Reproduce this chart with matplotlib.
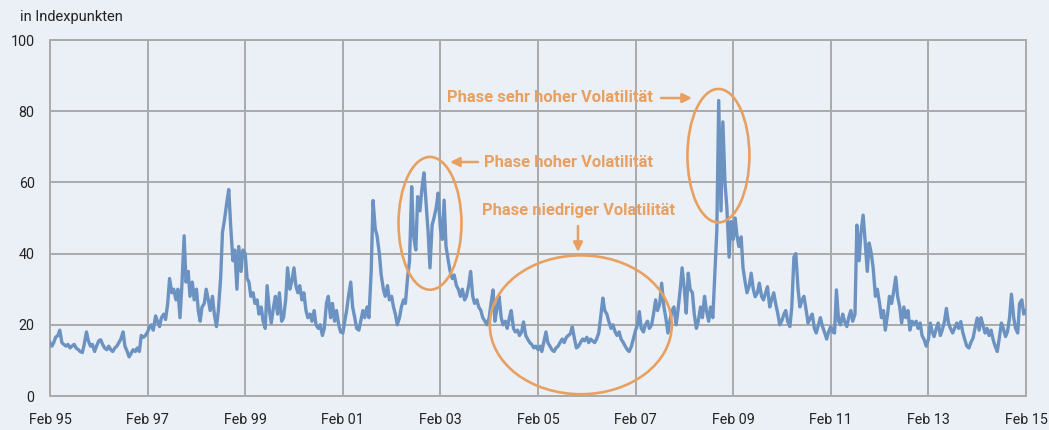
import matplotlib
matplotlib.use("Agg")
import matplotlib.pyplot as plt
import matplotlib.dates as mdates
from matplotlib.patches import Ellipse, FancyArrowPatch
import pandas as pd

# semi-monthly readings (1st and 15th of each month), Feb of year .. Jan of next year
y1995 = [15, 14, 15, 16.5, 17, 18.5, 15, 14.5, 14, 14.5, 13.5, 14, 14.5, 13.5, 13, 12.5, 12.2, 14.5, 18, 15.5, 14, 14.5, 12.5, 14]
y1996 = [15.5, 15.8, 14.5, 13.5, 13, 14, 13, 12.5, 13.5, 14, 15, 16, 18, 14, 12.5, 11, 12, 13, 12.5, 13.5, 12.5, 17, 16.5, 17]
y1997 = [18, 19.5, 20, 18.5, 22.5, 21, 19.5, 22, 23, 21.5, 26, 33, 29, 30, 27, 30, 22, 31, 45, 32, 35, 28, 32, 27]
y1998 = [30, 24, 21, 25, 26, 30, 27, 24, 28, 23, 19.5, 24, 33, 46, 50, 54, 58, 48, 38, 41, 30, 42, 35, 41]
y1999 = [40, 33, 32, 28, 29, 26, 27, 23, 25, 21, 19, 31, 24, 20.5, 25, 28, 23, 29, 21, 22, 27, 36, 30, 32]
y2000 = [36, 31, 29, 31, 27, 29, 24, 22, 23, 21, 24, 20, 19, 20, 17, 19, 26, 28, 22, 26, 21, 24, 20, 18]
y2001 = [17.7, 21, 24, 28, 32, 25, 22, 19, 18.5, 21, 24, 22, 25, 22, 35, 54.9, 47, 45, 40, 34, 30, 28, 31, 27]
y2002 = [28, 25, 23, 20, 22, 25, 27, 26, 33.5, 38, 58.8, 45, 41, 56, 52, 58, 62.7, 55, 46, 36, 48, 50, 53, 57]
y2003 = [47, 44, 55, 42, 38, 35, 33, 34, 31, 30, 28, 30, 27, 28, 31, 35, 28, 26, 27, 25, 24, 22, 21, 20]
y2004 = [22, 26, 29.8, 21, 25, 28, 22, 20, 21, 19, 22, 24, 19, 18, 18.5, 17, 18, 20.8, 17, 16, 15, 14.5, 13.5, 14]
y2005 = [13, 14, 12.5, 15, 18, 15, 14, 13, 12.5, 13.5, 14, 15, 16, 15, 16.5, 17, 17.5, 19.4, 16, 13.5, 14, 15, 16, 15.5]
y2006 = [16.5, 15, 16, 15.5, 15, 16, 17.7, 22, 27.5, 24, 23, 21, 19, 20, 18, 17, 18, 16, 15, 14, 13, 12.5, 14, 16]
y2007 = [18.5, 20, 23.7, 19, 18, 20, 21, 19, 20, 23, 27, 24, 26, 31.7, 25, 22, 17.7, 21, 24, 25, 20, 24, 30, 36]
y2008 = [30, 23.3, 34.5, 30, 29, 23, 19, 21, 25, 22, 28, 24, 21, 25, 22, 33.5, 46.6, 83, 52, 77, 60, 53, 39, 49]
y2009 = [44, 50, 45, 42, 44.7, 36, 32, 29, 31, 34.5, 30, 27.9, 29, 31.7, 28, 27, 29, 30.7, 25, 27, 29, 26, 23, 20]
y2010 = [21.3, 23, 24, 21, 19.5, 25, 39, 40, 30, 25, 27, 28, 24, 20.5, 22, 23, 19, 17.7, 20, 22, 19.5, 18, 16, 18]
y2011 = [19.5, 18, 17.7, 29.8, 21, 20, 23, 21, 19.5, 22, 24, 21, 23, 48, 38, 46, 50.8, 44, 35, 43, 40, 36, 28, 30]
y2012 = [26, 22, 24, 18.5, 23, 28, 26, 29, 33.4, 28, 25, 20.5, 25, 22, 24, 18.5, 21, 20, 21, 19, 20.5, 17, 15.7, 14]
y2013 = [16, 20.5, 18, 16.7, 19, 20.5, 17, 18.5, 21, 24.6, 20.5, 19, 17.7, 19, 20.5, 19, 20.9, 18, 15.7, 14, 13.5, 15, 16.3, 19]
y2014 = [21.9, 18.5, 22, 20, 17.7, 19, 17, 18.5, 15.7, 14, 12.5, 16, 20.5, 19, 16.7, 18, 22, 28.6, 22, 19, 17.7, 26, 27, 23]
y2015 = [24]

vdax = (y1995 + y1996 + y1997 + y1998 + y1999 + y2000 + y2001 + y2002 + y2003 + y2004
        + y2005 + y2006 + y2007 + y2008 + y2009 + y2010 + y2011 + y2012 + y2013 + y2014 + y2015)
start_date = "1995-02-01"

tick_years = list(range(1995, 2016, 2))
tick_labels = ["Feb %02d" % (y % 100) for y in tick_years]
y_ticks = [0, 20, 40, 60, 80, 100]

unit_label = "in Indexpunkten"
label_very_high = "Phase sehr hoher Volatilität"
label_high = "Phase hoher Volatilität"
label_low = "Phase niedriger Volatilität"

# ---------------------------------------------------------------
BG = "#ebf0f7"
LINE = "#6b92c1"
GRID = "#aaaaaa"
ORANGE = "#e8a061"
TXT = "#222222"

plt.rcParams["font.family"] = ["Roboto", "DejaVu Sans"]

W, H = 1049, 430
fig = plt.figure(figsize=(W / 100, H / 100), dpi=100, facecolor=BG)
L, R, T, B = 50, 1026, 40, 396
ax = fig.add_axes([L / W, 1 - B / H, (R - L) / W, (B - T) / H])
ax.set_facecolor(BG)

dates = pd.date_range(start_date, periods=len(vdax), freq="SMS")
ax.plot(dates, vdax, color=LINE, lw=2.4, solid_joinstyle="round", zorder=3)

tick_dates = [pd.Timestamp("%d-02-01" % y) for y in tick_years]
ax.set_xlim(tick_dates[0], tick_dates[-1])
ax.set_ylim(0, 100)
ax.set_xticks(tick_dates)
ax.set_xticklabels(tick_labels)
ax.set_yticks(y_ticks)
ax.tick_params(axis="both", length=0, labelsize=10.3, colors=TXT)
ax.tick_params(axis="x", pad=12)
ax.tick_params(axis="y", pad=11)
ax.grid(True, color=GRID, lw=1.4, zorder=1)
ax.set_axisbelow(True)
for s in ax.spines.values():
    s.set_color(GRID)
    s.set_linewidth(1.4)

fig.text(20 / W, 1 - 17 / H, unit_label, fontsize=10.5, color=TXT, va="center", ha="left")


def px(x, y):
    return (x / W, 1 - y / H)


def yr(t):
    return mdates.date2num(pd.Timestamp("1995-02-01")) + (t - 1995.083) * 365.25


# ellipses (data coordinates)
for (t, v, w_yrs, h) in [(2002.87, 48.5, 1.29, 37.3), (2008.78, 67.5, 1.27, 37.5), (2005.96, 20.0, 3.73, 39.0)]:
    e = Ellipse((yr(t), v), w_yrs * 365.25, h, fill=False, ec=ORANGE, lw=1.9, zorder=4, clip_on=False)
    ax.add_patch(e)

tkw = dict(fontsize=11.9, fontweight="bold", color=ORANGE, va="center")
fig.text(*px(447, 98), label_very_high, ha="left", **tkw)
fig.text(*px(484, 163), label_high, ha="left", **tkw)
fig.text(*px(482, 211), label_low, ha="left", **tkw)

akw = dict(arrowstyle="-|>", color=ORANGE, lw=1.8, mutation_scale=14, shrinkA=0, shrinkB=0)
fig.add_artist(FancyArrowPatch(px(661, 98), px(692, 98), transform=fig.transFigure, **akw))
fig.add_artist(FancyArrowPatch(px(478, 162), px(450, 162), transform=fig.transFigure, **akw))
fig.add_artist(FancyArrowPatch(px(578, 226), px(578, 252), transform=fig.transFigure, **akw))

fig.savefig("out.png", dpi=100, facecolor=BG)
